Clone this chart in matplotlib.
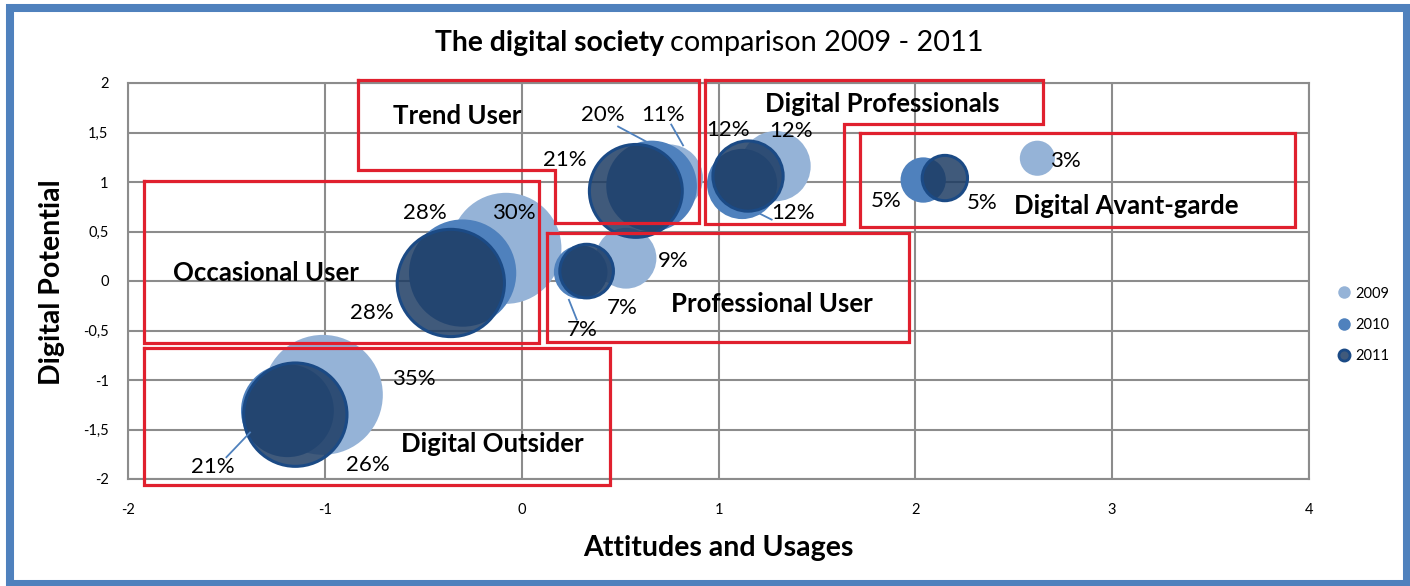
import numpy as np
import matplotlib
matplotlib.use("Agg")
import matplotlib.pyplot as plt
from matplotlib.patches import Rectangle
from matplotlib.lines import Line2D
from matplotlib.ticker import FuncFormatter

plt.rcParams["font.family"] = ["Lato", "DejaVu Sans"]

# ── Data ──────────────────────────────────────────────────────────────────────
segments = ["Digital Outsider", "Occasional User", "Trend User",
            "Professional User", "Digital Professionals", "Digital Avant-garde"]
years = ["2009", "2010", "2011"]

# attitudes & usages (x), digital potential (y), share of population in %
x_2009 = [-1.01, -0.08, 0.75, 0.53, 1.29, 2.62]
y_2009 = [-1.15, 0.33, 1.04, 0.23, 1.16, 1.24]
share_2009 = [35, 30, 11, 9, 12, 3]

x_2010 = [-1.19, -0.30, 0.66, 0.30, 1.12, 2.04]
y_2010 = [-1.31, 0.08, 0.96, 0.09, 0.98, 1.02]
share_2010 = [21, 28, 20, 7, 12, 5]

x_2011 = [-1.15, -0.36, 0.58, 0.33, 1.15, 2.15]
y_2011 = [-1.35, -0.02, 0.91, 0.10, 1.06, 1.04]
share_2011 = [26, 28, 21, 7, 12, 5]

y_ticks = [-2, -1.5, -1, -0.5, 0, 0.5, 1, 1.5, 2]
x_ticks = [-2, -1, 0, 1, 2, 3, 4]

# ── Label placement (data coords) ─────────────────────────────────────────────
label_pos_2009 = [(-0.55, -0.99), (-0.04, 0.69), (0.72, 1.68),
                  (0.77, 0.20), (1.37, 1.52), (2.76, 1.21)]
label_pos_2010 = [(-1.57, -1.88), (-0.49, 0.69), (0.41, 1.68),
                  (0.31, -0.50), (1.38, 0.69), (1.85, 0.81)]
label_pos_2011 = [(-0.78, -1.86), (-0.76, -0.32), (0.22, 1.22),
                  (0.51, -0.27), (1.05, 1.53), (2.34, 0.79)]

leader_lines = [
    [(-1.50, -1.78), (-1.38, -1.53)],
    [(0.49, 1.56), (0.65, 1.39)],
    [(0.76, 1.58), (0.82, 1.37)],
    [(1.21, 0.68), (1.27, 0.62)],
    [(0.24, -0.19), (0.28, -0.39)],
]

# segment outlines drawn over the chart
segment_boxes = {
    "Trend User": [(-0.83, 2.03), (0.90, 2.03), (0.90, 0.59), (0.17, 0.59),
                   (0.17, 1.12), (-0.83, 1.12)],
    "Digital Professionals": [(0.93, 2.03), (2.65, 2.03), (2.65, 1.59),
                              (1.64, 1.59), (1.64, 0.58), (0.93, 0.58)],
    "Digital Avant-garde": [(1.72, 1.50), (3.93, 1.50), (3.93, 0.55), (1.72, 0.55)],
    "Occasional User": [(-1.92, 1.01), (0.09, 1.01), (0.09, -0.63), (-1.92, -0.63)],
    "Professional User": [(0.13, 0.48), (1.97, 0.48), (1.97, -0.62), (0.13, -0.62)],
    "Digital Outsider": [(-1.92, -0.68), (0.45, -0.68), (0.45, -2.06), (-1.92, -2.06)],
}
box_label_pos = {
    "Trend User": (-0.33, 1.67),
    "Digital Professionals": (1.83, 1.79),
    "Digital Avant-garde": (3.07, 0.76),
    "Occasional User": (-1.30, 0.08),
    "Professional User": (1.27, -0.23),
    "Digital Outsider": (-0.15, -1.65),
}

# ── Styling ───────────────────────────────────────────────────────────────────
C_2009 = "#95B3D7"
C_2010 = "#4F81BD"
C_2011 = (27 / 255, 58 / 255, 98 / 255, 0.84)
C_2011_EDGE = "#1B4A85"
C_GRID = "#8C8C8C"
C_BOX = "#E0202E"
BUBBLE_SCALE = 213.0     # marker area (pt^2) per percentage point

W, H = 1410, 586
fig = plt.figure(figsize=(W / 100, H / 100), dpi=100)
ax = fig.add_axes([128 / W, (H - 479) / H, (1309 - 128) / W, (479 - 83) / H])

ax.set_xlim(-2, 4)
ax.set_ylim(-2, 2)
ax.set_xticks(x_ticks)
ax.set_yticks(y_ticks)
ax.yaxis.set_major_formatter(FuncFormatter(lambda v, _: f"{v:g}".replace(".", ",")))
ax.xaxis.set_major_formatter(FuncFormatter(lambda v, _: f"{v:g}"))
ax.tick_params(length=0, labelsize=10.5)
ax.tick_params(axis="x", pad=17)
ax.tick_params(axis="y", pad=14)
ax.grid(True, color=C_GRID, linewidth=1.5)
ax.set_axisbelow(True)
for sp in ax.spines.values():
    sp.set_color(C_GRID)
    sp.set_linewidth(1.5)

# ── Bubbles ───────────────────────────────────────────────────────────────────
ax.scatter(x_2009, y_2009, s=np.array(share_2009) * BUBBLE_SCALE,
           color=C_2009, linewidths=0, zorder=2)
ax.scatter(x_2010, y_2010, s=np.array(share_2010) * BUBBLE_SCALE,
           color=C_2010, linewidths=0, zorder=3)
ax.scatter(x_2011, y_2011, s=np.array(share_2011) * BUBBLE_SCALE,
           facecolors=[C_2011], edgecolors=C_2011_EDGE, linewidths=2.2, zorder=4)

for shares, positions in [(share_2009, label_pos_2009),
                          (share_2010, label_pos_2010),
                          (share_2011, label_pos_2011)]:
    for v, (lx, ly) in zip(shares, positions):
        ax.text(lx, ly, f"{v}%", ha="center", va="center", fontsize=16,
                color="black", zorder=8)

for (x0, y0), (x1, y1) in leader_lines:
    ax.plot([x0, x1], [y0, y1], color=C_2010, linewidth=1.3, zorder=5)

# ── Segment boxes ─────────────────────────────────────────────────────────────
for name, pts in segment_boxes.items():
    xs = [p[0] for p in pts] + [pts[0][0]]
    ys = [p[1] for p in pts] + [pts[0][1]]
    ax.plot(xs, ys, color=C_BOX, linewidth=2.3, clip_on=False,
            solid_joinstyle="miter", zorder=6)
    bx, by = box_label_pos[name]
    ax.text(bx, by, name, ha="center", va="center", fontsize=18.5,
            fontweight="bold", zorder=8)

# ── Legend ────────────────────────────────────────────────────────────────────
handles = [
    Line2D([], [], ls="none", marker="o", markersize=9, markerfacecolor=C_2009,
           markeredgewidth=0),
    Line2D([], [], ls="none", marker="o", markersize=9, markerfacecolor=C_2010,
           markeredgewidth=0),
    Line2D([], [], ls="none", marker="o", markersize=8, markerfacecolor=C_2011,
           markeredgecolor=C_2011_EDGE, markeredgewidth=2),
]
fig.legend(handles, years, loc="center left", frameon=False, fontsize=10.5,
           bbox_to_anchor=(1331 / W, 1 - 325 / H), handlelength=1,
           handletextpad=0.3, labelspacing=1.2, borderaxespad=0)

# ── Titles ────────────────────────────────────────────────────────────────────
fig.text(664 / W, 1 - 43 / H, "The digital society", ha="right", va="center",
         fontsize=20.3, fontweight="bold")
fig.text(670 / W, 1 - 43 / H, "comparison 2009 - 2011", ha="left", va="center",
         fontsize=20.8)
fig.text(718 / W, 1 - 548 / H, "Attitudes and Usages", ha="center", va="center",
         fontsize=20.5, fontweight="bold")
fig.text(52 / W, 1 - 282 / H, "Digital Potential", ha="center", va="center",
         rotation=90, fontsize=20.5, fontweight="bold")

# outer frame
fig.add_artist(Rectangle((10 / W, 2 / H), (1407 - 10) / W, (578 - 2) / H,
                         transform=fig.transFigure, fill=False,
                         edgecolor=C_2010, linewidth=5.8))

fig.savefig("out.png", dpi=100)
